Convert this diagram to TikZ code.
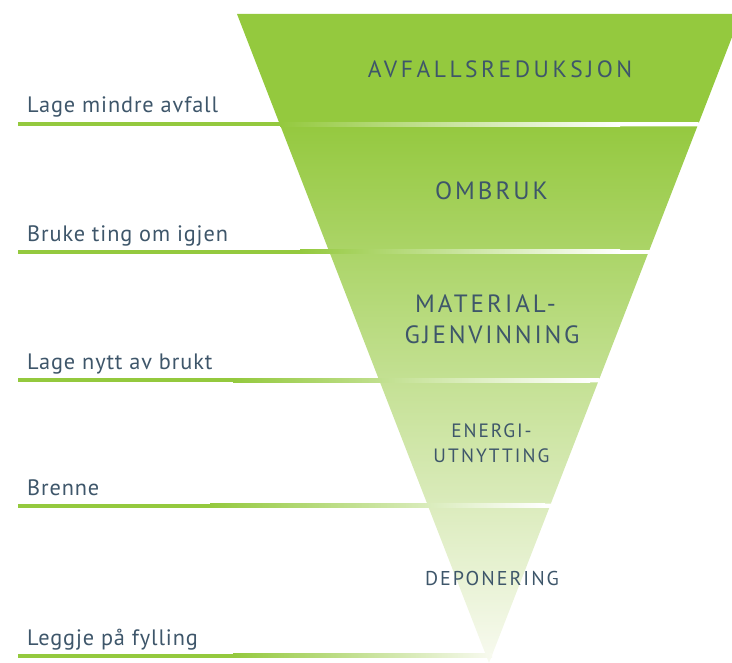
\documentclass[tikz,border=0pt]{standalone}
\usepackage{fontspec}
\setmainfont{PT Sans}
\definecolor{fg}{RGB}{62,86,106}
\definecolor{gr}{RGB}{148,201,62}
\definecolor{ca}{RGB}{149,201,64}
\definecolor{cb}{RGB}{171,212,103}
\definecolor{cc}{RGB}{172,213,105}
\definecolor{cd}{RGB}{195,224,146}
\definecolor{ce}{RGB}{197,225,149}
\definecolor{cf}{RGB}{218,235,187}
\definecolor{cg}{RGB}{220,236,190}
\definecolor{ch}{RGB}{248,250,240}
\tikzset{
  ttl/.style={text=fg, inner sep=0pt, anchor=base},
  lab/.style={text=fg, inner sep=0pt, anchor=base west,
    font=\fontsize{22.3}{24}\selectfont\addfontfeatures{LetterSpace=4}},
  barsolid/.style={fill=gr},
  barfade/.style={left color=gr, right color=white},
}
\begin{document}
\begin{tikzpicture}[x=1pt,y=-1pt]
\useasboundingbox (0,0) rectangle (732,663);
\clip (0,0) rectangle (732,663);
% funnel bands
\path[fill=gr] (237,14) -- (741,14) -- (698.9,122.5) -- (279.1,122.5) -- cycle;
\path[top color=ca, bottom color=cb] (280.7,126.5) -- (697.3,126.5) -- (649.4,250) -- (328.6,250) -- cycle;
\path[top color=cc, bottom color=cd] (330.2,254) -- (647.8,254) -- (599.5,378.5) -- (378.5,378.5) -- cycle;
\path[top color=ce, bottom color=cf] (380.1,382.5) -- (597.9,382.5) -- (550.9,503.5) -- (427.1,503.5) -- cycle;
\path[top color=cg, bottom color=ch] (428.6,507.5) -- (549.4,507.5) -- (489,663) -- cycle;
% bars
\fill[barsolid] (18,122.5) rectangle (281,126.5);
\shade[barfade] (280,122.5) rectangle (620,126.5);
\fill[white] (619.5,122.5) rectangle (698,126.5);
\fill[barsolid] (18,250) rectangle (301,254);
\shade[barfade] (300,250) rectangle (620,254);
\fill[white] (619.5,250) rectangle (648.6,254);
\fill[barsolid] (18,378.5) rectangle (234,382.5);
\shade[barfade] (233,378.5) rectangle (590,382.5);
\fill[white] (589.5,378.5) rectangle (598.7,382.5);
\fill[barsolid] (18,503.5) rectangle (211,507.5);
\shade[barfade] (210,503.5) rectangle (545,507.5);
\fill[white] (544.5,503.5) rectangle (550.2,507.5);
\fill[barsolid] (18,653.5) rectangle (234,657.5);
\shade[left color=gr, right color=ch] (233,653.5) rectangle (492,657.5);
% titles
\node[ttl, font=\fontsize{23.5}{26}\selectfont\addfontfeatures{LetterSpace=15}] (t1) at (500,77.3) {AVFALLSREDUKSJON};
\node[ttl, font=\fontsize{25}{28}\selectfont\addfontfeatures{LetterSpace=12}] (t2) at (491.5,199.3) {OMBRUK};
\node[ttl, font=\fontsize{25}{28}\selectfont\addfontfeatures{LetterSpace=12}] (t3a) at (485.5,313) {MATERIAL-};
\node[ttl, font=\fontsize{25}{28}\selectfont\addfontfeatures{LetterSpace=11}] (t3b) at (492,344) {GJENVINNING};
\node[ttl, font=\fontsize{19.3}{22}\selectfont\addfontfeatures{LetterSpace=10}] (t4a) at (491.5,438) {ENERGI-};
\node[ttl, font=\fontsize{19.3}{22}\selectfont\addfontfeatures{LetterSpace=11}] (t4b) at (491.5,463) {UTNYTTING};
\node[ttl, font=\fontsize{20}{22}\selectfont\addfontfeatures{LetterSpace=10}] (t5) at (492,585) {DEPONERING};
% labels
\node[lab] (l1) at (27,113) {Lage mindre avfall};
\node[lab] (l2) at (27,241.7) {Bruke ting om igjen};
\node[lab] (l3) at (27,370) {Lage nytt av brukt};
\node[lab] (l4) at (27,496) {Brenne};
\node[lab] (l5) at (27,645.7) {Leggje på fylling};
\end{tikzpicture}
\end{document}
